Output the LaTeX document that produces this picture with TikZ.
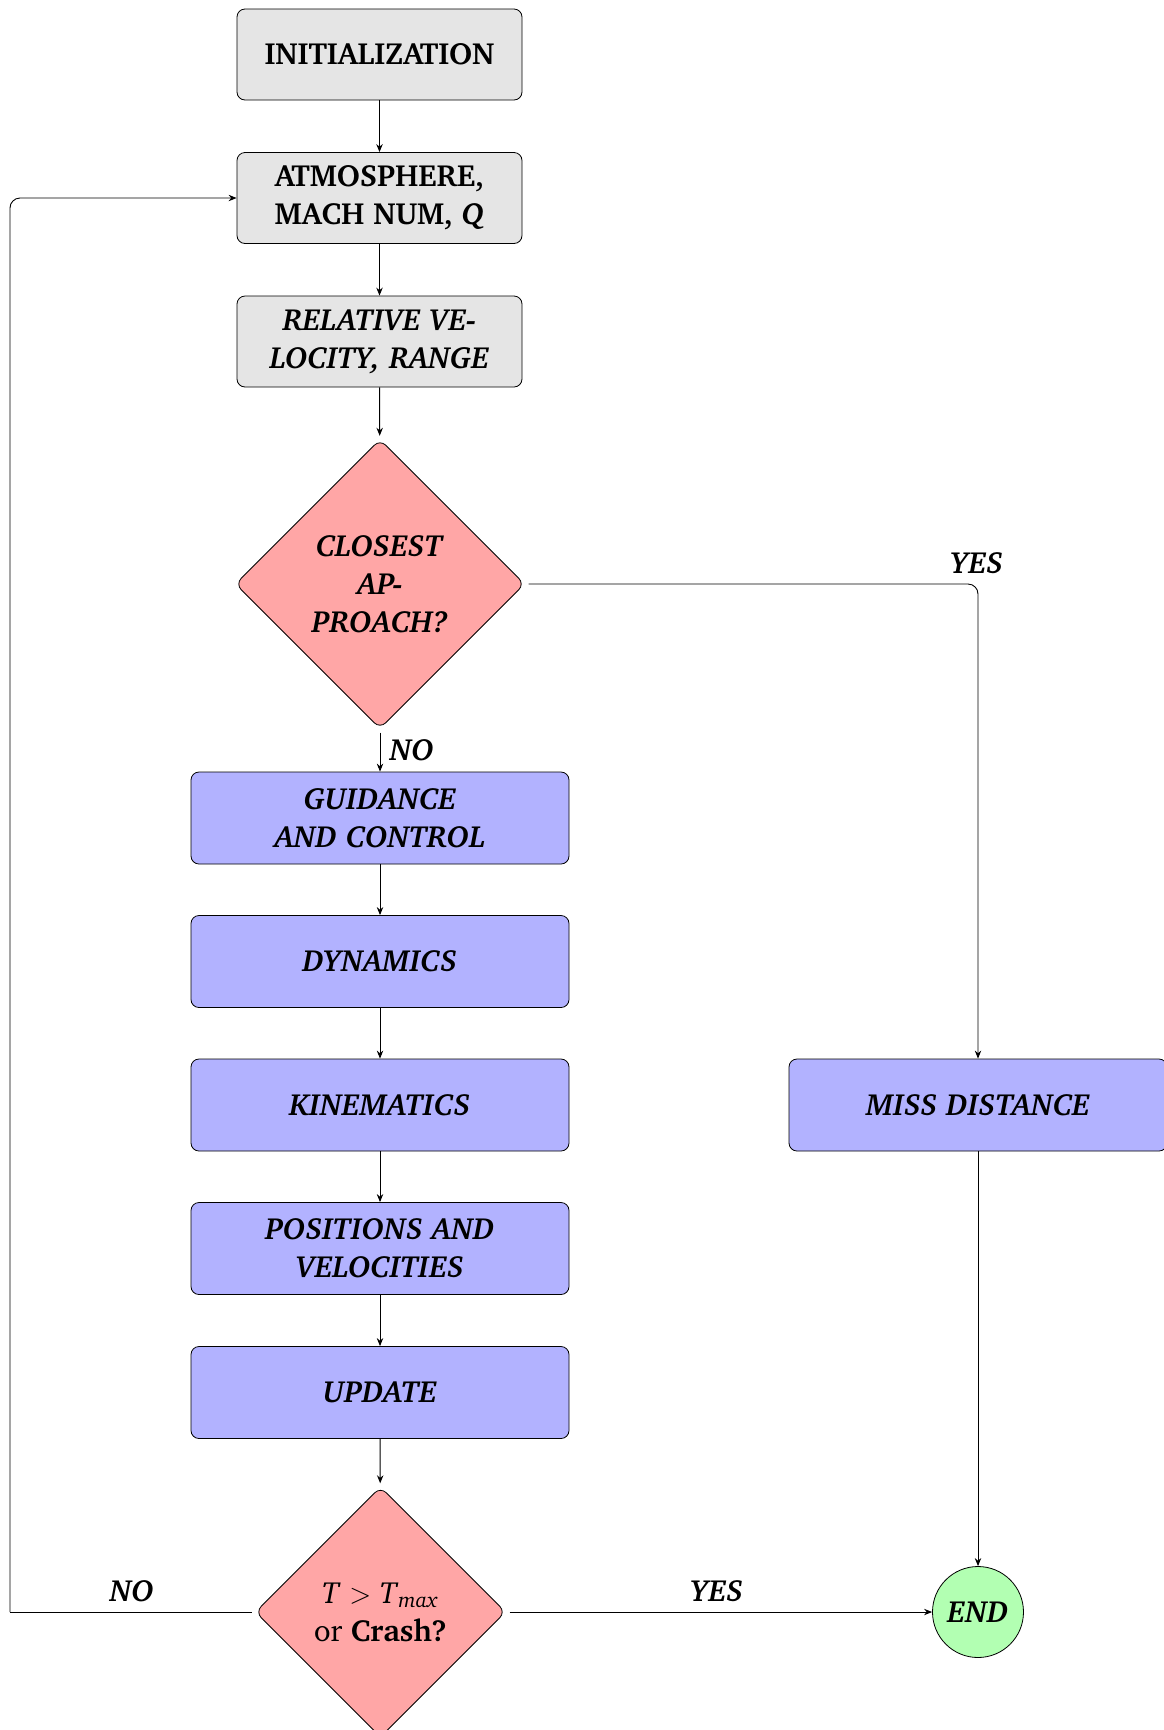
\documentclass[tikz,border=0pt]{standalone}
\usepackage[T1]{fontenc}
\usepackage{charter}
\usetikzlibrary{shapes.geometric,arrows.meta}
\tikzset{
  basefont/.style={font=\fontsize{15.3}{19}\selectfont, align=center, text=black},
  graybox/.style={basefont, draw=black, fill=gray!20, rounded corners=4pt, minimum width=142.5pt, minimum height=45.5pt, inner sep=2pt},
  bluebox/.style={basefont, draw=black, fill=blue!30, rounded corners=4pt, minimum width=189pt, minimum height=46pt, inner sep=2pt},
  decision/.style={basefont, draw=black, fill=red!35, diamond, aspect=1, rounded corners=4pt, inner sep=0pt, outer sep=0pt},
  endnode/.style={basefont, draw=black, fill=green!30, circle, minimum size=45.5pt, inner sep=0pt},
  lbl/.style={basefont},
  arr/.style={-{Stealth[length=4pt,width=3.2pt]}, draw=black, line width=0.45pt},
  ln/.style={draw=black, line width=0.45pt}
}
\begin{document}
\begin{tikzpicture}[x=0.5pt,y=-0.5pt]
\useasboundingbox (0,0) rectangle (1163,1730);
\node[graybox] (init) at (379.5,54.5) {\textbf{INITIALIZATION}};
\node[graybox] (atm) at (379.5,198) {\textbf{ATMOSPHERE,}\\\textbf{MACH NUM, \textit{Q}}};
\node[graybox] (rel) at (379.5,341.5) {\textbf{\textit{RELATIVE VE-}}\\\textbf{\textit{LOCITY, RANGE}}};
\node[decision, minimum size=144.5pt] (cap) at (380,584) {\textbf{\textit{CLOSEST}}\\\textbf{\textit{AP-}}\\\textbf{\textit{PROACH?}}};
\node[bluebox] (gc) at (380,818) {\textbf{\textit{GUIDANCE}}\\\textbf{\textit{AND CONTROL}}};
\node[bluebox] (dyn) at (380,961.5) {\textbf{\textit{DYNAMICS}}};
\node[bluebox] (kin) at (380,1105) {\textbf{\textit{KINEMATICS}}};
\node[bluebox] (pos) at (380,1248.5) {\textbf{\textit{POSITIONS AND}}\\\textbf{\textit{VELOCITIES}}};
\node[bluebox] (upd) at (380,1392.5) {\textbf{\textit{UPDATE}}};
\node[decision, minimum size=125pt] (crash) at (380.5,1612) {\textit{T} $>$ \textit{T}\textsubscript{\textit{max}}\\or \textbf{Crash?}};
\node[bluebox] (miss) at (978,1105) {\textbf{\textit{MISS DISTANCE}}};
\node[endnode] (end) at (978,1612) {\textbf{\textit{END}}};
\coordinate (lb) at (10,1612);
\node[lbl] (yes1) at (977,563) {\textbf{\textit{YES}}};
\node[lbl] (no1) at (412,750) {\textbf{\textit{NO}}};
\node[lbl] (yes2) at (717,1591) {\textbf{\textit{YES}}};
\node[lbl] (no2) at (132,1591) {\textbf{\textit{NO}}};
\draw[arr] (init) -- (atm);
\draw[arr] (atm) -- (rel);
\draw[arr, shorten >=2pt] (rel) -- (cap);
\draw[arr, shorten <=2pt] (cap) -- (gc);
\draw[arr] (gc) -- (dyn);
\draw[arr] (dyn) -- (kin);
\draw[arr] (kin) -- (pos);
\draw[arr] (pos) -- (upd);
\draw[arr, shorten >=2pt] (upd) -- (crash);
\draw[arr, rounded corners=5pt, shorten <=2pt] (cap.east) -| (miss.north);
\draw[arr] (miss.south) -- (end.north);
\draw[arr, shorten <=2pt] (crash.east) -- (end.west);
\draw[ln, shorten <=2pt] (crash.west) -- (lb);
\draw[arr, rounded corners=5pt] (lb) |- (atm.west);
\end{tikzpicture}
\end{document}
